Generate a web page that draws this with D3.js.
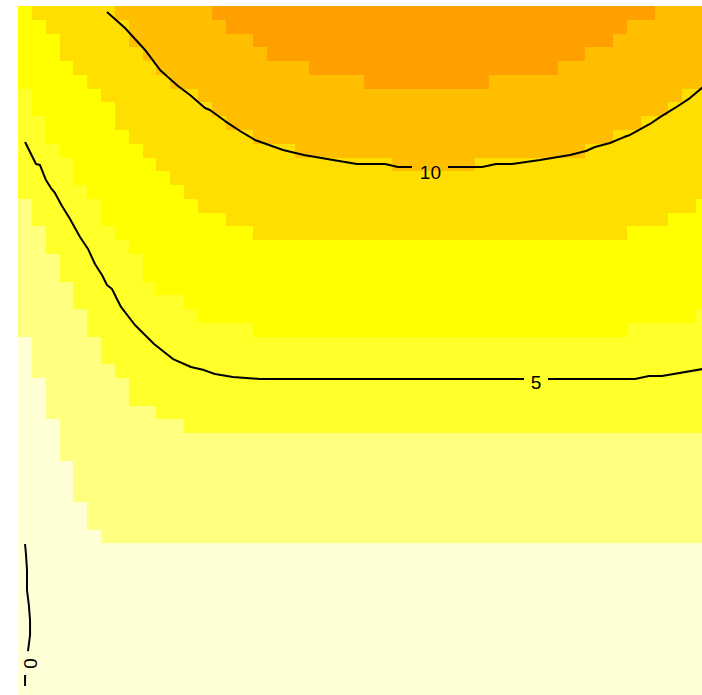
<!DOCTYPE html>
<html>
<head>
<meta charset="utf-8">
<script src="https://cdn.jsdelivr.net/npm/d3@7"></script>
<style>
  html, body { margin: 0; padding: 0; background: #ffffff; }
  svg { display: block; }
</style>
</head>
<body>
<svg id="chart" width="702" height="695"></svg>
<script>
// ---------------- DATA ----------------
// Colour levels (low -> high), image() palette
const levelColors = ["#FFFFD5", "#FFFF80", "#FFFF2A", "#FFFF00", "#FFDF00", "#FFBF00", "#FF9F00"];
const contourLevels = ["0", "5", "10"];

// For each of the 50 grid columns (left -> right): number of rows, counted from the top,
// whose level is at least k (k = 1..6). 50 rows per column.
const edge1 = [24,27,30,33,36,38,39,39,39,39, 39,39,39,39,39,39,39,39,39,39,
               39,39,39,39,39,39,39,39,39,39, 39,39,39,39,39,39,39,39,39,39,
               39,39,39,39,39,39,39,39,39,39];
const edge2 = [14,16,18,20,22,24,26,27,29,29, 30,30,31,31,31,31,31,31,31,31,
               31,31,31,31,31,31,31,31,31,31, 31,31,31,31,31,31,31,31,31,31,
               31,31,31,31,31,31,31,31,31,31];
const edge3 = [6,8,10,11,13,14,16,17,18,20, 21,21,22,23,23,23,23,24,24,24,
               24,24,24,24,24,24,24,24,24,24, 24,24,24,24,24,24,24,24,24,24,
               24,24,24,24,23,23,23,23,23,22];
const edge4 = [0,1,2,4,5,6,7,9,10,11, 12,13,14,15,15,16,16,17,17,17,
               17,17,17,17,17,17,17,17,17,17, 17,17,17,17,17,17,17,17,17,17,
               17,17,17,17,16,16,16,15,15,14];
const edge5 = [0,0,0,0,0,0,0,1,3,4, 5,6,6,7,8,9,9,10,10,10,
               11,11,11,11,11,11,11,12,12,12, 12,12,12,11,11,11,11,11,11,11,
               11,10,10,9,9,8,8,7,6,6];
const edge6 = [0,0,0,0,0,0,0,0,0,0, 0,0,0,0,1,2,2,3,4,4,
               4,5,5,5,5,6,6,6,6,6, 6,6,6,6,5,5,5,5,5,4,
               4,3,3,2,1,1,0,0,0,0];

// Contour lines in grid units (x: 0..50 from left, y: 0..50 from bottom); null = label gap
const contour10 = [[6.43,49.56],[7.73,48.40],[9.18,46.81],[10.26,45.36],[11.56,44.19],[12.43,43.54],
  [13.51,42.60],[13.87,42.45],[14.96,41.65],[16.04,40.93],[17.12,40.28],[19.15,39.55],[20.66,39.19],
  [22.76,38.82],[24.49,38.53],[26.52,38.53],[27.46,38.32],[28.47,38.32],null,[31.07,38.32],
  [33.53,38.32],[34.54,38.53],[35.69,38.53],[37.72,38.82],[39.88,39.19],[41.04,39.48],[41.69,39.77],
  [42.77,40.06],[43.79,40.49],[44.22,40.64],[45.66,41.44],[46.39,41.94],[47.47,42.60],[48.55,43.32],
  [49.49,44.12]];
const contour5 = [[0.51,40.13],[1.30,38.53],[1.59,38.46],[2.02,37.37],[2.38,36.79],[2.67,36.43],
  [3.18,35.49],[3.76,34.54],[4.48,33.24],[5.06,32.37],[5.56,31.28],[6.07,30.48],[6.43,29.75],
  [6.79,29.46],[7.44,28.16],[8.45,26.85],[9.83,25.47],[11.20,24.38],[12.50,23.80],[13.44,23.58],
  [14.23,23.29],[15.53,23.08],[17.49,22.93],[36.56,22.93],null,[38.29,22.93],[44.58,22.93],
  [45.59,23.15],[46.53,23.15],[49.49,23.66]];
const contour0 = [[0.51,10.96],[0.58,10.16],[0.65,9.07],[0.65,7.62],[0.79,6.46],[0.87,5.44],
  [0.87,4.35],[0.72,3.19],null,[0.51,1.45],[0.51,0.65]];

// Label anchor points (grid units) for each contour level
const labelX = [0.90, 37.43, 29.80];
const labelY = [2.29, 22.68, 37.95];
const labelVertical = [true, false, false];

// ---------------- DRAW ----------------
const nCols = 50, nRows = 50;
const svg = d3.select("#chart");

const x = d3.scaleLinear().domain([0, nCols]).range([18, 710]);
const y = d3.scaleLinear().domain([0, nRows]).range([695, 6]);
const color = d3.scaleOrdinal().domain(d3.range(levelColors.length)).range(levelColors);

const edges = [edge1, edge2, edge3, edge4, edge5, edge6];
const cells = [];
for (let c = 0; c < nCols; c++) {
  for (let r = 0; r < nRows; r++) {
    let lev = 0;
    edges.forEach(e => { if (r < e[c]) lev++; });
    cells.push({ c, r, lev });
  }
}

svg.append("g")
  .attr("shape-rendering", "crispEdges")
  .selectAll("rect")
  .data(cells)
  .join("rect")
  .attr("x", d => x(d.c))
  .attr("y", d => y(nRows - d.r))
  .attr("width", d => x(d.c + 1) - x(d.c))
  .attr("height", d => y(nRows - d.r - 1) - y(nRows - d.r))
  .attr("fill", d => color(d.lev));

const line = d3.line()
  .defined(d => d !== null)
  .x(d => x(d[0]))
  .y(d => y(d[1]));

const lines = [contour0, contour5, contour10];
svg.append("g")
  .selectAll("path")
  .data(lines)
  .join("path")
  .attr("d", d => line(d))
  .attr("fill", "none")
  .attr("stroke", "#000")
  .attr("stroke-width", 2)
  .attr("stroke-linejoin", "round");

const labels = contourLevels.map((t, i) => ({ t, x: labelX[i], y: labelY[i], v: labelVertical[i] }));
svg.append("g")
  .selectAll("text")
  .data(labels)
  .join("text")
  .attr("transform", d => `translate(${x(d.x)},${y(d.y)})` + (d.v ? " rotate(-90)" : ""))
  .attr("text-anchor", "middle")
  .attr("dy", "0.36em")
  .attr("font-family", "'Liberation Sans', Arial, Helvetica, sans-serif")
  .attr("font-size", 19)
  .attr("fill", "#000")
  .text(d => d.t);
</script>
</body>
</html>
